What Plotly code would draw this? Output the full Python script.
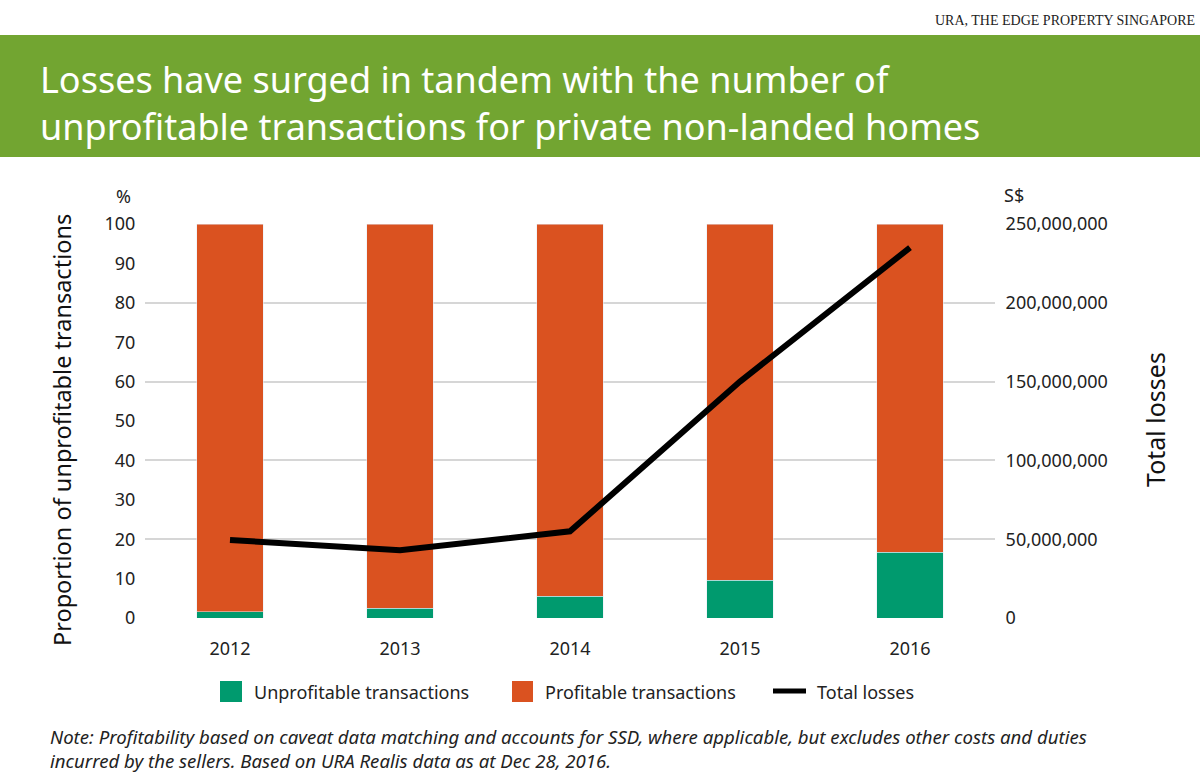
import plotly.graph_objects as go

years = ["2012", "2013", "2014", "2015", "2016"]
unprofitable = [1.6, 2.5, 5.5, 9.6, 16.7]
profitable = [100 - v for v in unprofitable]
total_losses = [49.5e6, 43e6, 55e6, 150e6, 235e6]
left_ticks = [0, 10, 20, 30, 40, 50, 60, 70, 80, 90, 100]
right_ticks = [0, 50e6, 100e6, 150e6, 200e6, 250e6]

GREEN = "#009A6E"
ORANGE = "#DA5220"
HEADER = "#72A531"
FONT = "Noto Sans"

W, H = 1200, 776
L, R, T, B = 145, 995, 224, 618

def px(x):
    return (x - L) / (R - L)

def py(y):
    return (B - y) / (B - T)

fig = go.Figure()
fig.add_trace(go.Bar(x=years, y=unprofitable, marker_color=GREEN, width=0.39,
                     name="Unprofitable transactions", showlegend=False))
fig.add_trace(go.Bar(x=years, y=profitable, marker_color=ORANGE, width=0.39,
                     name="Profitable transactions", showlegend=False))
fig.add_trace(go.Scatter(x=years, y=total_losses, yaxis="y2", mode="lines",
                         line=dict(color="black", width=6), name="Total losses",
                         showlegend=False))

shapes = [
    dict(type="rect", xref="paper", yref="paper", x0=px(0), x1=px(W), y0=py(157), y1=py(35),
         fillcolor=HEADER, line=dict(width=0), layer="below"),
    # legend
    dict(type="rect", xref="paper", yref="paper", x0=px(220), x1=px(242), y0=py(702), y1=py(681),
         fillcolor=GREEN, line=dict(width=0)),
    dict(type="rect", xref="paper", yref="paper", x0=px(512), x1=px(533), y0=py(702), y1=py(681),
         fillcolor=ORANGE, line=dict(width=0)),
    dict(type="line", xref="paper", yref="paper", x0=px(773), x1=px(806), y0=py(691), y1=py(691),
         line=dict(color="black", width=5)),
]

ann = [
    dict(text="URA, THE EDGE PROPERTY SINGAPORE", x=px(1197), y=py(20), xanchor="right", yanchor="middle",
         font=dict(family="Liberation Serif", size=14, color="#222")),
    dict(text="Losses have surged in tandem with the number of<br>unprofitable transactions for private non-landed homes",
         x=px(38), y=py(103), xanchor="left", yanchor="middle", align="left",
         font=dict(family=FONT, size=36, color="white")),
    dict(text="%", x=px(123), y=py(196), xanchor="center", yanchor="middle",
         font=dict(family=FONT, size=18, color="#222")),
    dict(text="S$", x=px(1002), y=py(195), xanchor="left", yanchor="middle",
         font=dict(family=FONT, size=18, color="#222")),
    dict(text="Proportion of unprofitable transactions", x=px(62), y=py(430), textangle=-90,
         xanchor="center", yanchor="middle", font=dict(family=FONT, size=23.5, color="#111")),
    dict(text="Total losses", x=px(1155), y=py(420), textangle=-90,
         xanchor="center", yanchor="middle", font=dict(family=FONT, size=25, color="#111")),
    dict(text="Unprofitable transactions", x=px(252), y=py(692), xanchor="left", yanchor="middle",
         font=dict(family=FONT, size=18, color="#222")),
    dict(text="Profitable transactions", x=px(543), y=py(692), xanchor="left", yanchor="middle",
         font=dict(family=FONT, size=18, color="#222")),
    dict(text="Total losses", x=px(815), y=py(692), xanchor="left", yanchor="middle",
         font=dict(family=FONT, size=18, color="#222")),
    dict(text="<i>Note: Profitability based on caveat data matching and accounts for SSD, where applicable, but excludes other costs and duties<br>incurred by the sellers. Based on URA Realis data as at Dec 28, 2016.</i>",
         x=px(48), y=py(748), xanchor="left", yanchor="middle", align="left",
         font=dict(family=FONT, size=18.6, color="#222")),
]
for a in ann:
    a.update(xref="paper", yref="paper", showarrow=False)

fig.update_layout(
    width=W, height=H,
    margin=dict(l=L, r=W - R, t=T, b=H - B, pad=0),
    barmode="stack", bargap=0.61,
    paper_bgcolor="white", plot_bgcolor="white",
    font=dict(family=FONT, size=18, color="#222"),
    xaxis=dict(showgrid=False, showline=False, ticks="outside", ticklen=14, tickcolor="rgba(0,0,0,0)",
               tickfont=dict(size=18), range=[-0.5, 4.5]),
    yaxis=dict(range=[0, 100], tickvals=left_ticks, showgrid=False, zeroline=False, showline=False,
               ticks="outside", ticklen=5, tickcolor="rgba(0,0,0,0)", tickfont=dict(size=18)),
    yaxis2=dict(range=[0, 250e6], tickvals=right_ticks, tickformat=",d", overlaying="y", side="right",
                showgrid=True, gridcolor="#d6d6d6", gridwidth=2, zeroline=False, showline=False,
                ticks="outside", ticklen=6, tickcolor="rgba(0,0,0,0)", tickfont=dict(size=18),
                layer="below traces"),
    shapes=shapes, annotations=ann, showlegend=False,
)
fig.write_html("out.html", config={"displayModeBar": False},
               post_script="document.body.style.margin='0';document.body.style.overflow='hidden';")
